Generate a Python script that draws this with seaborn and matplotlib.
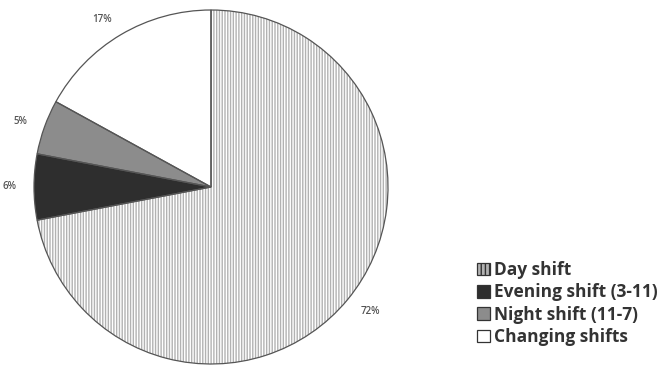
import seaborn as sns
import matplotlib.pyplot as plt

labels = ["Day shift", "Evening shift (3-11)", "Night shift (11-7)", "Changing shifts"]
shares = [72, 6, 5, 17]
pct_text = ["72%", "6%", "5%", "17%"]
colors = ["#b2b2b2", "#2e2e2e", "#8c8c8c", "#ffffff"]

sns.set_style("white")
plt.rcParams['font.family'] = ['Open Sans', 'DejaVu Sans']
plt.rcParams['hatch.color'] = "#cdcdcd"
plt.rcParams['hatch.linewidth'] = 1.0

fig = plt.figure(figsize=(6.7, 3.66), dpi=100)
ax = fig.add_axes([34 / 670, 2 / 366, 354 / 670, 354 / 366])

# fill with stripes for the big slice
wedges, texts = ax.pie(shares, colors=colors, startangle=90, counterclock=False,
                       labels=pct_text, labeldistance=1.1,
                       wedgeprops=dict(linewidth=0),
                       textprops=dict(fontsize=7, color="#555555", fontweight="semibold"))
wedges[0].set_hatch("||||||")
# outlines on top
ax.pie(shares, colors=["none"] * 4, startangle=90, counterclock=False,
       wedgeprops=dict(linewidth=0.9, edgecolor="#555555"))
ax.set_xlim(-1, 1)
ax.set_ylim(-1, 1)
ax.set_aspect("equal")

handles = [plt.Rectangle((0, 0), 1, 1, facecolor=c, edgecolor="#333333", linewidth=0.9,
                         hatch=("||||" if i == 0 else None)) for i, c in enumerate(colors)]
fig.legend(handles, labels, loc="upper left", bbox_to_anchor=(470 / 670, 1 - 254 / 366),
           frameon=False, handlelength=0.75, handleheight=0.75,
           handletextpad=0.25, labelspacing=0.25, borderaxespad=0,
           prop=dict(weight="bold", size=12.5))
for t in fig.legends[0].get_texts():
    t.set_color("#333333")

fig.savefig("out.png", dpi=100)
